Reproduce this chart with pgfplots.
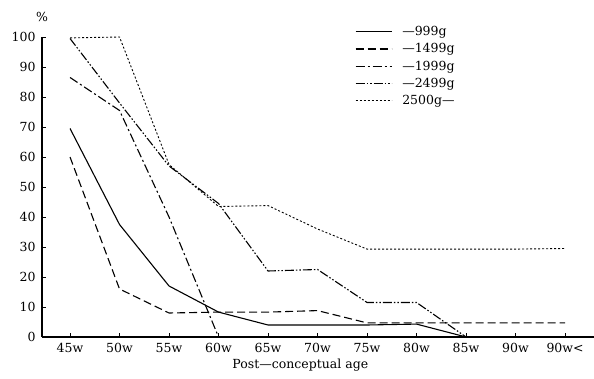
\documentclass[border=0pt]{standalone}
\usepackage{fontspec}
\setmainfont{DejaVu Serif}
\usepackage{pgfplots}
\pgfplotsset{compat=1.18}
\begin{document}
\begin{tikzpicture}
\begin{axis}[
  at={(0,0)}, anchor=south west,
  scale only axis, width=552pt, height=300pt,
  xmin=-0.566, xmax=10.585, ymin=0, ymax=100,
  axis lines=left, axis line style={-, line width=1.2pt},
  clip=false,
  xtick={0,...,10},
  xticklabels={45w,50w,55w,60w,65w,70w,75w,80w,85w,90w,90w<},
  ytick={0,10,...,100},
  tick align=inside, major tick length=4pt,
  tick style={line width=0.8pt, black},
  /pgf/number format/assume math mode=true,
  tick label style={font=\fontsize{12.5}{14}\selectfont},
  xticklabel style={yshift=-3pt},
  yticklabel style={xshift=-3pt},
  xlabel={Post—conceptual age},
  xlabel style={at={(axis description cs:0.468,0)}, anchor=center, yshift=-28pt, font=\fontsize{12.5}{14}\selectfont},
  legend style={at={(axis description cs:0.567,1.043)}, anchor=north west, draw=none, fill=none,
    font=\fontsize{12.5}{14}\selectfont, row sep=2.5pt, inner sep=0pt},
  legend cell align=left,
  legend image code/.code={\draw[#1] (0pt,0pt) -- (36pt,0pt); \path (44pt,0pt);},
  every axis plot/.append style={line width=1.1pt, black},
]
\addplot[black, solid, no markers] coordinates {(0,69.5)(1,37.5)(2,17)(3,8.3)(4,4)(5,4)(6,4)(7,4.3)(8,0)};
\addlegendentry{—999g}
\addplot[black, no markers, dash pattern=on 8pt off 4pt] coordinates {(0,60)(1,16)(2,8)(3,8.3)(4,8.3)(5,8.8)(6,4.7)(7,4.7)(8,4.7)(9,4.7)(10,4.7)};
\addlegendentry{—1499g}
\addplot[black, no markers, dash pattern=on 9pt off 3pt on 2pt off 3pt] coordinates {(0,86.5)(1,75.5)(2,40)(3,0)(4,0)(5,0)(6,0)(7,0)(8,0)};
\addlegendentry{—1999g}
\addplot[black, no markers, dash pattern=on 9pt off 2pt on 1.5pt off 2pt on 1.5pt off 2pt] coordinates {(0,99.5)(1,78)(2,57)(3,44.5)(4,22)(5,22.5)(6,11.5)(7,11.5)(8,0)};
\addlegendentry{—2499g}
\addplot[black, no markers, line width=0.9pt, dash pattern=on 2pt off 2pt] coordinates {(0,99.7)(1,100)(2,57.5)(3,43.5)(4,43.8)(5,36)(6,29.3)(7,29.3)(8,29.3)(9,29.3)(10,29.5)};
\addlegendentry{2500g—}
\node[anchor=south, font=\fontsize{12.5}{14}\selectfont] at (rel axis cs:0,1) [yshift=12pt] {\%};
\end{axis}
\pgfresetboundingbox
\path (-42pt,-42pt) rectangle (552pt,337pt);
\end{tikzpicture}
\end{document}
